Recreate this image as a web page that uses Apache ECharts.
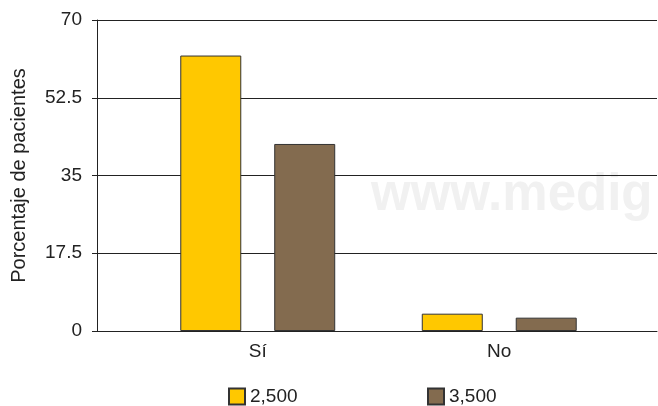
<!DOCTYPE html>
<html><head><meta charset="utf-8">
<script src="https://cdn.jsdelivr.net/npm/echarts@6/dist/echarts.min.js"></script>
<style>html,body{margin:0;padding:0;background:#fff}#c{width:658px;height:406px}</style>
</head><body><div id="c"></div>
<script>
const categories = ['Sí', 'No'];
const seriesNames = ['2,500', '3,500'];
const values2500 = [62, 3.9];
const values3500 = [42.1, 3.0];
const yTicks = [0, 17.5, 35, 52.5, 70];

const font = 'Liberation Sans, Arial, sans-serif';
const chart = echarts.init(document.getElementById('c'));
chart.setOption({
  animation: false,
  graphic: [{
    type: 'text', left: 371, top: 170, z: -10, silent: true,
    style: { text: 'www.medig', fill: '#f1f1f1', font: 'bold 51px Liberation Sans, Arial, sans-serif' }
  }],
  grid: [
    { left: 97, right: 1, top: 20, bottom: 75 },
    { left: 137, width: 483, top: 20, bottom: 75 }
  ],
  legend: [
    { data: [seriesNames[0]], left: 223, top: 382, itemWidth: 16, itemHeight: 16, itemGap: 10, icon: 'rect',
      textStyle: { fontFamily: font, fontSize: 19, color: '#222' } },
    { data: [seriesNames[1]], left: 422, top: 382, itemWidth: 16, itemHeight: 16, itemGap: 10, icon: 'rect',
      textStyle: { fontFamily: font, fontSize: 19, color: '#222' } }
  ],
  xAxis: [
    { type: 'category', gridIndex: 0, data: [''], axisTick: { show: false }, axisLabel: { show: false },
      axisLine: { show: true, lineStyle: { color: '#222', width: 1 } } },
    { type: 'category', gridIndex: 1, data: categories, axisTick: { show: false },
      axisLine: { show: false },
      axisLabel: { fontFamily: font, fontSize: 19, color: '#222', margin: 11 } }
  ],
  yAxis: [
    { type: 'value', gridIndex: 0, min: 0, max: 70, interval: 17.5,
      name: 'Porcentaje de pacientes', nameLocation: 'middle', nameGap: 68,
      nameTextStyle: { fontFamily: font, fontSize: 20, color: '#222' },
      axisLine: { show: true, lineStyle: { color: '#222', width: 1 } },
      axisTick: { show: true, length: 5, lineStyle: { color: '#222' } },
      axisLabel: { fontFamily: font, fontSize: 19, color: '#222', margin: 15,
        formatter: v => yTicks.includes(v) ? String(v) : '' },
      splitLine: { show: true, lineStyle: { color: '#222', width: 1 } } },
    { type: 'value', gridIndex: 1, min: 0, max: 70, interval: 17.5, show: false }
  ],
  series: [
    { name: seriesNames[0], type: 'bar', xAxisIndex: 1, yAxisIndex: 1, data: values2500,
      barWidth: 61, barGap: '54%',
      itemStyle: { color: '#FFC800', borderColor: '#333', borderWidth: 1 } },
    { name: seriesNames[1], type: 'bar', xAxisIndex: 1, yAxisIndex: 1, data: values3500,
      barWidth: 61, barGap: '54%',
      itemStyle: { color: '#836B4F', borderColor: '#333', borderWidth: 1 } }
  ]
});
</script></body></html>
